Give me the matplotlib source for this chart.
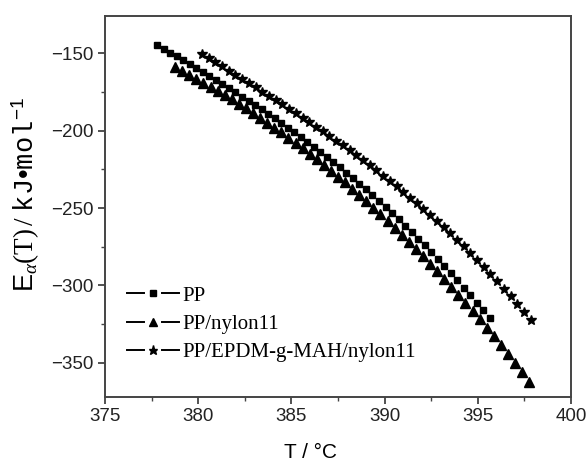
import matplotlib
matplotlib.use("Agg")
import matplotlib.pyplot as plt
from matplotlib.lines import Line2D
from matplotlib.legend_handler import HandlerBase
from matplotlib.ticker import MultipleLocator

# ---- data ----
labels = ["PP", "PP/nylon11", "PP/EPDM-g-MAH/nylon11"]

T_pp = [377.8, 378.15, 378.5, 378.85, 379.2, 379.55, 379.9, 380.25, 380.6, 380.95,
        381.3, 381.65, 382.0, 382.35, 382.7, 383.05, 383.4, 383.75, 384.1, 384.45,
        384.8, 385.15, 385.5, 385.85, 386.2, 386.55, 386.9, 387.25, 387.6, 387.95,
        388.3, 388.65, 389.0, 389.35, 389.7, 390.05, 390.4, 390.75, 391.1, 391.45,
        391.8, 392.15, 392.5, 392.85, 393.2, 393.55, 393.9, 394.25, 394.6, 394.95,
        395.3, 395.65]
E_pp = [-144.9, -147.3, -149.7, -152.1, -154.6, -157.1, -159.6, -162.1, -164.7, -167.3,
        -169.9, -172.6, -175.3, -178.0, -180.7, -183.5, -186.3, -189.2, -192.1, -195.1,
        -198.1, -201.1, -204.2, -207.3, -210.5, -213.8, -217.1, -220.4, -223.8, -227.3,
        -230.8, -234.4, -238.0, -241.7, -245.5, -249.4, -253.3, -257.3, -261.3, -265.4,
        -269.7, -273.9, -278.3, -282.7, -287.2, -291.8, -296.5, -301.3, -306.1, -311.1,
        -316.1, -321.3]

T_ny = [378.76, 379.14, 379.52, 379.90, 380.28, 380.66, 381.04, 381.42, 381.80, 382.18,
        382.56, 382.94, 383.32, 383.70, 384.08, 384.46, 384.84, 385.22, 385.60, 385.98,
        386.36, 386.74, 387.12, 387.50, 387.88, 388.26, 388.64, 389.02, 389.40, 389.78,
        390.16, 390.54, 390.92, 391.30, 391.68, 392.06, 392.44, 392.82, 393.20, 393.58,
        393.96, 394.34, 394.72, 395.10, 395.48, 395.86, 396.24, 396.62, 397.00, 397.38,
        397.76]
E_ny = [-159.2, -161.5, -164.0, -166.5, -169.0, -171.7, -174.3, -177.1, -179.9, -182.7,
        -185.7, -188.6, -191.7, -194.8, -198.0, -201.2, -204.6, -207.9, -211.4, -214.9,
        -218.5, -222.1, -225.9, -229.7, -233.5, -237.5, -241.5, -245.6, -249.8, -254.0,
        -258.3, -262.7, -267.2, -271.8, -276.4, -281.1, -285.9, -290.8, -295.8, -300.8,
        -305.9, -311.2, -316.5, -321.8, -327.3, -332.9, -338.5, -344.2, -350.1, -356.0,
        -362.0]

T_ep = [380.2, 380.56, 380.92, 381.28, 381.64, 382.0, 382.36, 382.72, 383.08, 383.44,
        383.8, 384.16, 384.52, 384.88, 385.24, 385.6, 385.96, 386.32, 386.68, 387.04,
        387.4, 387.76, 388.12, 388.48, 388.84, 389.2, 389.56, 389.92, 390.28, 390.64,
        391.0, 391.36, 391.72, 392.08, 392.44, 392.8, 393.16, 393.52, 393.88, 394.24,
        394.6, 394.96, 395.32, 395.68, 396.04, 396.4, 396.76, 397.12, 397.48, 397.84]
E_ep = [-150.4, -153.1, -155.8, -158.5, -161.2, -163.9, -166.6, -169.3, -172.0, -174.8,
        -177.5, -180.3, -183.1, -185.9, -188.8, -191.6, -194.5, -197.5, -200.4, -203.4,
        -206.5, -209.6, -212.7, -215.9, -219.1, -222.4, -225.7, -229.1, -232.5, -236.0,
        -239.6, -243.2, -246.9, -250.6, -254.5, -258.4, -262.4, -266.4, -270.6, -274.8,
        -279.1, -283.5, -288.0, -292.6, -297.3, -302.1, -307.0, -312.0, -317.1, -322.3]

x_ticks = [375, 380, 385, 390, 395, 400]
y_ticks = [-350, -300, -250, -200, -150]

# ---- figure ----
plt.rcParams['font.family'] = ['Liberation Sans', 'DejaVu Sans']
plt.rcParams['mathtext.fontset'] = 'custom'
plt.rcParams['mathtext.rm'] = 'Liberation Serif'
plt.rcParams['mathtext.it'] = 'Liberation Serif:italic'
plt.rcParams['mathtext.sf'] = 'Liberation Sans'
plt.rcParams['mathtext.tt'] = 'Liberation Mono'

fig = plt.figure(figsize=(5.88, 4.63), dpi=100)
ax = fig.add_axes([105/588, 1-397/463, (571-105)/588, (397-16)/463])

ax.plot(T_pp, E_pp, ls='none', marker='s', ms=4, color='black')
ax.plot(T_ny, E_ny, ls='none', marker='^', ms=7, color='black')
ax.plot(T_ep, E_ep, ls='none', marker='*', ms=7.5, color='black')

ax.set_xlim(375, 400)
ax.set_ylim(-372, -126)
ax.set_xticks(x_ticks)
ax.set_yticks(y_ticks)
ax.xaxis.set_minor_locator(MultipleLocator(2.5))
ax.yaxis.set_minor_locator(MultipleLocator(25))
ax.tick_params(which='major', direction='out', length=5, width=1.1, labelsize=13.5,
               colors='#222222', pad=3)
ax.tick_params(which='minor', direction='out', length=3, width=1.0, colors='#444444')
for sp in ax.spines.values():
    sp.set_linewidth(1.4)
    sp.set_color('#444444')


class DashMarkerHandler(HandlerBase):
    """'-- marker --' legend key: two line pieces with a gap around the marker."""
    def create_artists(self, legend, orig_handle, xdescent, ydescent, width,
                       height, fontsize, trans):
        y = height / 2 - ydescent
        x0 = -xdescent
        x1 = x0 + width
        seg = width * 0.33
        l1 = Line2D([x0, x0 + seg], [y, y], color='black', lw=1.4)
        l2 = Line2D([x1 - seg, x1], [y, y], color='black', lw=1.4)
        m = Line2D([(x0 + x1) / 2], [y], ls='none', marker=orig_handle.get_marker(),
                   ms=orig_handle.get_markersize(), color='black')
        for a in (l1, l2, m):
            a.set_transform(trans)
        return [l1, l2, m]


handles = [
    Line2D([], [], color='black', marker='s', ms=4),
    Line2D([], [], color='black', marker='^', ms=6),
    Line2D([], [], color='black', marker='*', ms=6.5),
]
leg = fig.legend(handles, labels, loc='upper left',
                 bbox_to_anchor=(123/588, 1-282/463), frameon=False,
                 prop={'family': 'Liberation Serif', 'size': 15},
                 handlelength=2.47, handletextpad=0.2, labelspacing=0.42,
                 borderpad=0.2, borderaxespad=0,
                 handler_map={Line2D: DashMarkerHandler()})

fig.text(311/588, 1-452/463, "T / °C", ha='center', va='center', fontsize=15)
ylab = (r"$\mathsf{E}_{\alpha}\mathrm{(T)\,/\ }\mathtt{kJ}$" + "•" +
        r"$\mathtt{mol}^{\mathsf{-1}}$")
fig.text(26/588, 1-195/463, ylab, ha='center', va='center', rotation=90, fontsize=19.5)

fig.savefig("out.png", dpi=100)
